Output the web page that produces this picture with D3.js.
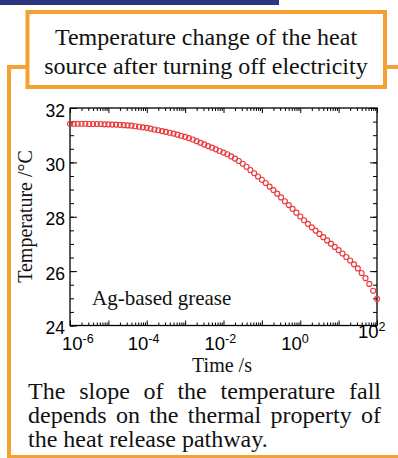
<!DOCTYPE html>
<html><head><meta charset="utf-8">
<script src="https://cdn.jsdelivr.net/npm/d3@7"></script>
<style>html,body{margin:0;padding:0;background:#fff;} svg{display:block;}</style>
</head><body>
<script>
// ---- data ----
const logTime = [
 -6.0,-5.9,-5.8,-5.7,-5.6,-5.5,-5.4,-5.3,-5.2,-5.1,
 -5.0,-4.9,-4.8,-4.7,-4.6,-4.5,-4.4,-4.3,-4.2,-4.1,
 -4.0,-3.9,-3.8,-3.7,-3.6,-3.5,-3.4,-3.3,-3.2,-3.1,
 -3.0,-2.9,-2.8,-2.7,-2.6,-2.5,-2.4,-2.3,-2.2,-2.1,
 -2.0,-1.9,-1.8,-1.7,-1.6,-1.5,-1.4,-1.3,-1.2,-1.1,
 -1.0,-0.9,-0.8,-0.7,-0.6,-0.5,-0.4,-0.3,-0.2,-0.1,
 0.0,0.1,0.2,0.3,0.4,0.5,0.6,0.7,0.8,0.9,
 1.0,1.1,1.2,1.3,1.4,1.5,1.6,1.7,1.8,1.9,2.0];
const temperature = [
 31.42,31.42,31.42,31.42,31.42,31.41,31.41,31.41,31.41,31.40,
 31.40,31.39,31.39,31.38,31.37,31.36,31.35,31.33,31.31,31.29,
 31.27,31.24,31.21,31.18,31.15,31.12,31.09,31.06,31.02,30.98,
 30.94,30.89,30.84,30.78,30.72,30.66,30.60,30.54,30.48,30.42,
 30.36,30.30,30.22,30.14,30.05,29.95,29.84,29.72,29.60,29.48,
 29.36,29.24,29.11,28.98,28.85,28.71,28.57,28.43,28.29,28.15,
 28.01,27.87,27.74,27.61,27.49,27.37,27.25,27.13,27.01,26.89,
 26.77,26.65,26.52,26.39,26.25,26.10,25.93,25.74,25.53,25.28,24.98];
const yTickValues = [24, 26, 28, 30, 32];
const xLabelExponents = [-6, -4, -2, 0, 2];
const titleLines = ["Temperature change of the heat", "source after turning off electricity"];
const noteLines = ["The slope of the temperature fall", "depends on the thermal property of", "the heat release pathway."];
const sampleLabel = "Ag-based grease";
const xTitle = "Time /s";
const yTitle = "Temperature /\u00B0C";

// ---- drawing ----
const W = 398, H = 458;
const orange = "#f5a033";
const serif = "'Liberation Serif','Times New Roman',serif";
const sans = "'Liberation Sans',Arial,sans-serif";
const svg = d3.select("body").append("svg").attr("width", W).attr("height", H);

svg.append("rect").attr("x", 0).attr("y", 0).attr("width", 279).attr("height", 5).attr("fill", "#2b3580");
svg.append("path").attr("d", "M9,458 V67 H27").attr("fill", "none").attr("stroke", orange).attr("stroke-width", 4);
svg.append("path").attr("d", "M385,67 H398").attr("fill", "none").attr("stroke", orange).attr("stroke-width", 4);
svg.append("rect").attr("x", 27.5).attr("y", 12).attr("width", 357.5).attr("height", 75)
  .attr("fill", "none").attr("stroke", orange).attr("stroke-width", 4);
svg.append("line").attr("x1", 7).attr("x2", 398).attr("y1", 456.5).attr("y2", 456.5)
  .attr("stroke", orange).attr("stroke-width", 3);

// title
svg.append("g").selectAll("text").data(titleLines).join("text")
  .attr("x", 206).attr("y", (d, i) => 45 + i * 29)
  .attr("text-anchor", "middle").attr("font-family", serif).attr("font-size", 24).attr("fill", "#111")
  .text(d => d);

const L = 70, R = 377, T = 108, B = 325.5;
const x = d3.scaleLog().domain([1e-6, 1e2]).range([L, R]);
const y = d3.scaleLinear().domain([24, 32]).range([B, T]);

const xMajor = d3.range(-6, 3).map(e => Math.pow(10, e));
const xMinor = [];
for (let e = -6; e < 2; e++) for (let k = 2; k <= 9; k++) xMinor.push(k * Math.pow(10, e));
const yMinor = d3.range(24, 32.01, 0.5);

function addAxis(axis, tx, ty) {
  const g = svg.append("g").attr("transform", `translate(${tx},${ty})`).call(axis);
  g.select(".domain").remove();
  g.selectAll("text").remove();
  g.selectAll("line").attr("stroke", "#000").attr("stroke-width", 1);
}
addAxis(d3.axisBottom(x).tickValues(xMajor).tickSize(-5).tickFormat(""), 0, B);
addAxis(d3.axisBottom(x).tickValues(xMinor).tickSize(-3).tickFormat(""), 0, B);
addAxis(d3.axisTop(x).tickValues(xMajor).tickSize(-5).tickFormat(""), 0, T);
addAxis(d3.axisTop(x).tickValues(xMinor).tickSize(-3).tickFormat(""), 0, T);
addAxis(d3.axisLeft(y).tickValues(yTickValues).tickSize(-7).tickFormat(""), L, 0);
addAxis(d3.axisLeft(y).tickValues(yMinor).tickSize(-4).tickFormat(""), L, 0);
addAxis(d3.axisRight(y).tickValues(yTickValues).tickSize(-7).tickFormat(""), R, 0);
addAxis(d3.axisRight(y).tickValues(yMinor).tickSize(-4).tickFormat(""), R, 0);

svg.append("rect").attr("x", L).attr("y", T).attr("width", R - L).attr("height", B - T)
  .attr("fill", "none").attr("stroke", "#000").attr("stroke-width", 1.3);

// y labels
svg.append("g").selectAll("text").data(yTickValues).join("text")
  .attr("x", 65).attr("y", d => y(d) + 8.5).attr("text-anchor", "end")
  .attr("font-family", sans).attr("font-size", 17.5).attr("fill", "#000").text(d => d);

// x labels
const xl = svg.append("g").selectAll("text").data(xLabelExponents).join("text")
  .attr("x", d => Math.max(x(Math.pow(10, d)) - 19, 62))
  .attr("y", d => d === 2 ? 338 : 349.5)
  .attr("font-family", sans).attr("font-size", 18.5).attr("fill", "#000");
xl.append("tspan").text("10");
xl.append("tspan").attr("dy", -7).attr("font-size", 12.5).text(d => d < 0 ? "-" + (-d) : "" + d);

// axis titles
svg.append("text").attr("transform", "translate(32,216.5) rotate(-90)").attr("text-anchor", "middle")
  .attr("font-family", serif).attr("font-size", 20).attr("fill", "#111").text(yTitle);
svg.append("text").attr("x", 222).attr("y", 371.5).attr("text-anchor", "middle")
  .attr("font-family", serif).attr("font-size", 20).attr("fill", "#111").text(xTitle);
svg.append("text").attr("x", 92).attr("y", 305)
  .attr("font-family", serif).attr("font-size", 21).attr("fill", "#111").text(sampleLabel);

// data markers
const pts = logTime.map((e, i) => ({t: Math.pow(10, e), v: temperature[i]}));
svg.append("g").selectAll("circle").data(pts).join("circle")
  .attr("cx", d => x(d.t)).attr("cy", d => y(d.v)).attr("r", 2.5)
  .attr("fill", "none").attr("stroke", "#ea3a3e").attr("stroke-width", 1.15);

// justified note
const noteG = svg.append("g").attr("font-family", serif).attr("font-size", 24).attr("fill", "#111");
const left = 28, right = 381;
noteLines.forEach((line, li) => {
  const words = line.split(" ");
  const by = 399 + li * 24;
  const texts = words.map(w => noteG.append("text").attr("y", by).text(w));
  const widths = texts.map(t => t.node().getComputedTextLength());
  const total = d3.sum(widths);
  const last = li === noteLines.length - 1;
  const gap = last ? 6 : (right - left - total) / (words.length - 1);
  let cx = left;
  texts.forEach((t, i) => { t.attr("x", cx); cx += widths[i] + gap; });
});
</script>
</body></html>
